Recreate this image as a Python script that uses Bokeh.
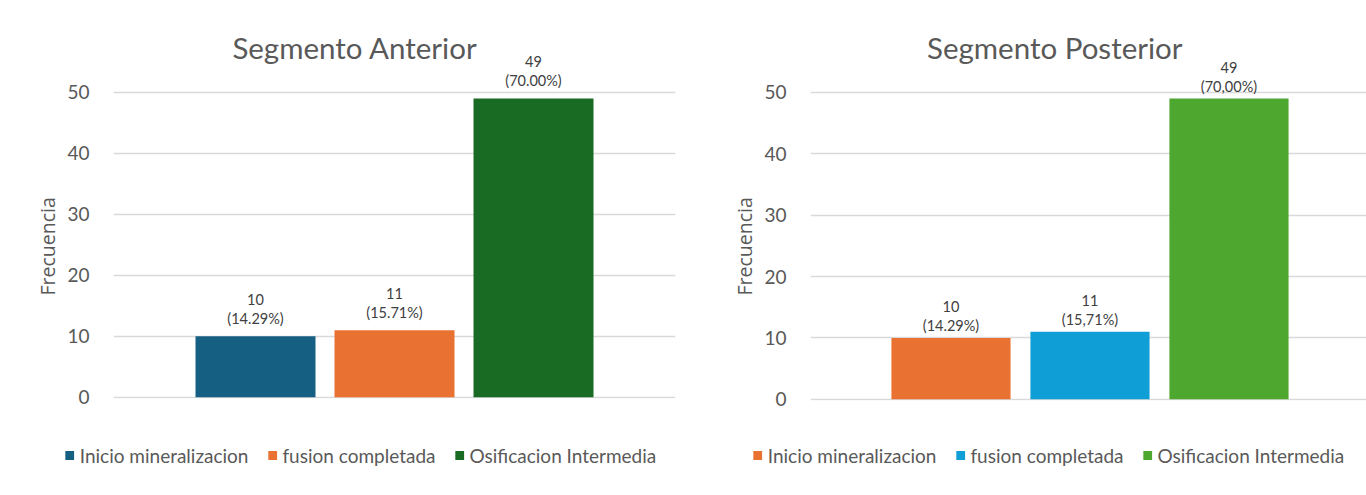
from bokeh.plotting import figure
from bokeh.models import (ColumnDataSource, LabelSet, Label, Legend, LegendItem, Range1d,
                          FixedTicker, Title)
from bokeh.layouts import row, column
from bokeh.embed import file_html
from bokeh.resources import INLINE
from bokeh.core.properties import value

# ---------------- data ----------------
categories = ["Inicio mineralizacion", "fusion completada", "Osificacion Intermedia"]
anterior_counts = [10, 11, 49]
anterior_pct = ["(14.29%)", "(15.71%)", "(70.00%)"]
posterior_counts = [10, 11, 49]
posterior_pct = ["(14.29%)", "(15,71%)", "(70,00%)"]
anterior_colors = ["#156082", "#E97132", "#196B24"]
posterior_colors = ["#E97132", "#0F9ED5", "#4EA72E"]
y_ticks = [0, 10, 20, 30, 40, 50]

TEXT = "#595959"
MAIN_H = 421
LEG_H = 68


def make_panel(title, counts, pcts, colors, width, frame_left, frame_right, first_center,
               unit_px, y_px, zero_px, cnt_off, pct_off, title_cx, ylab_offset,
               legend_left):
    frame_w = frame_right - frame_left
    x0 = -(first_center - frame_left) / unit_px
    xr = Range1d(x0, x0 + frame_w / unit_px)
    pad = 0.2
    yr = Range1d(-pad, zero_px / y_px)
    frame_bottom = zero_px + pad * y_px
    p = figure(width=width, height=MAIN_H, x_range=xr, y_range=yr,
               output_backend="svg", toolbar_location=None,
               min_border_left=frame_left, min_border_right=width - frame_right,
               min_border_top=0, min_border_bottom=int(round(MAIN_H - frame_bottom)))
    p.outline_line_color = None
    p.frame_align = False

    src = ColumnDataSource(dict(x=list(range(len(counts))), top=counts,
                                color=colors, cnt=[str(c) for c in counts], pct=pcts))
    p.vbar(x="x", top="top", bottom=0, width=120 / unit_px, fill_color="color",
           line_color=None, source=src)

    # chart title (inside the tall frame, above the 50 gridline)
    p.add_layout(Label(x=x0 + (title_cx - frame_left) / unit_px, y=(zero_px - 47) / y_px,
                       text=title, text_align="center", text_baseline="middle",
                       text_font="Lato", text_font_size="29.5px", text_color=TEXT))

    p.xaxis.visible = False
    p.xgrid.visible = False
    p.ygrid.ticker = FixedTicker(ticks=y_ticks)
    p.ygrid.grid_line_color = "#D9D9D9"
    p.ygrid.grid_line_width = 1.5

    ax = p.yaxis[0]
    ax.ticker = FixedTicker(ticks=y_ticks)
    ax.axis_line_color = None
    ax.major_tick_line_color = None
    ax.minor_tick_line_color = None
    ax.major_label_standoff = 18
    ax.major_label_text_font = "Lato"
    ax.major_label_text_font_size = "19px"
    ax.major_label_text_color = TEXT

    p.add_layout(Title(text="Frecuencia", align="left", offset=ylab_offset, standoff=7,
                       text_font="Open Sans", text_font_size="19.5px",
                       text_font_style="normal", text_color=TEXT), "left")

    for col, off in (("cnt", cnt_off), ("pct", pct_off)):
        p.add_layout(LabelSet(x="x", y="top", text=col, source=src, y_offset=off,
                              text_align="center", text_baseline="middle",
                              text_font=value("Lato"), text_font_size="14.5px",
                              text_color="#404040"))

    # legend strip under the chart
    lg = figure(width=width, height=LEG_H, x_range=Range1d(100, 101),
                y_range=Range1d(100, 101),
                output_backend="svg", toolbar_location=None,
                min_border_left=legend_left, min_border_right=0,
                min_border_top=0, min_border_bottom=0)
    lg.frame_align = False
    lg.axis.visible = False
    lg.grid.visible = False
    lg.outline_line_color = None
    lr = lg.vbar(x="x", top="top", bottom=0, width=0.5, fill_color="color",
                 line_color=None, source=src)
    legend = Legend(items=[LegendItem(label=categories[i], renderers=[lr], index=i)
                           for i in range(len(categories))],
                    orientation="horizontal", location="center",
                    glyph_width=11, glyph_height=11, label_standoff=5, spacing=18,
                    padding=0, margin=0,
                    label_text_font="Lato", label_text_font_size="19px",
                    label_text_color=TEXT, border_line_color=None,
                    background_fill_alpha=0)
    lg.add_layout(legend, "center")
    return column(p, lg, spacing=0)


left = make_panel("Segmento Anterior", anterior_counts, anterior_pct, anterior_colors,
                  width=700, frame_left=113, frame_right=675, first_center=255,
                  unit_px=139, y_px=6.1, zero_px=397,
                  cnt_off=37, pct_off=18, title_cx=354.5, ylab_offset=103,
                  legend_left=20)
right = make_panel("Segmento Posterior", posterior_counts, posterior_pct, posterior_colors,
                   width=641, frame_left=81, frame_right=641, first_center=222.5,
                   unit_px=140, y_px=6.14, zero_px=399,
                   cnt_off=31.5, pct_off=12.5, title_cx=1052 - 725, ylab_offset=105,
                   legend_left=5)

layout = row(left, right, spacing=25)
open("out.html", "w").write(file_html(layout, INLINE))
